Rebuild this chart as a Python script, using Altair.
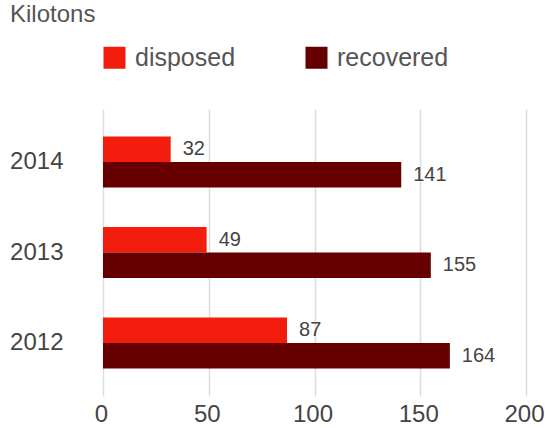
import altair as alt
import pandas as pd

years = ["2014", "2013", "2012"]
series = ["disposed", "recovered"]
disposed = [32, 49, 87]
recovered = [141, 155, 164]
colors = ["#F21D0D", "#660000"]
x_ticks = [0, 50, 100, 150, 200]

rows = []
for i, y in enumerate(years):
    rows.append({"year": y, "series": series[0], "value": disposed[i]})
    rows.append({"year": y, "series": series[1], "value": recovered[i]})
df = pd.DataFrame(rows)

FONT = "Liberation Sans"

y_enc = alt.Y("year:N", sort=years,
              scale=alt.Scale(paddingInner=0.4365, paddingOuter=0.304),
              axis=alt.Axis(title=None, ticks=False, domain=False, grid=False,
                            labelFontSize=24, labelColor="#444444", labelFont=FONT,
                            labelPadding=40))
yoff = alt.YOffset("series:N", sort=series, scale=alt.Scale(paddingInner=0, paddingOuter=0))
x_enc = alt.X("value:Q", scale=alt.Scale(domain=[0, 200], nice=False),
              axis=alt.Axis(title=None, values=x_ticks, ticks=False, domain=False,
                            grid=True, gridColor="#dddddd", gridWidth=1.5,
                            labelFontSize=24, labelColor="#444444", labelFont=FONT,
                            labelPadding=6, labelFlush=False, labelOffset=-2))

bars = alt.Chart(df).mark_bar().encode(
    y=y_enc, yOffset=yoff, x=x_enc,
    color=alt.Color("series:N", sort=series,
                    scale=alt.Scale(domain=series, range=colors),
                    legend=alt.Legend(title=None, orient="none", direction="horizontal",
                                      legendX=-1, legendY=-64, symbolType="square",
                                      symbolSize=484, symbolStrokeWidth=0,
                                      symbolOpacity=1, labelFontSize=25,
                                      labelColor="#555555", labelFont=FONT,
                                      labelOffset=8, columnPadding=68, padding=0)),
)

labels = alt.Chart(df).mark_text(align="left", baseline="middle", dx=12,
                                 fontSize=20, color="#444444", font=FONT).encode(
    y=alt.Y("year:N", sort=years), yOffset=yoff, x="value:Q",
    text=alt.Text("value:Q"),
)

chart = alt.layer(bars, labels).properties(
    width=423, height=287,
    title=alt.TitleParams("Kilotons", anchor="start", frame="group", dx=-93, dy=-14,
                          fontSize=24, font=FONT, color="#555555", fontWeight="normal"),
    autosize=alt.AutoSizeParams(type="none"),
    padding={"left": 103, "top": 109, "right": 19, "bottom": 32},
).configure_view(stroke=None)

chart.save("out.html", embed_options={"renderer": "svg", "actions": False})
